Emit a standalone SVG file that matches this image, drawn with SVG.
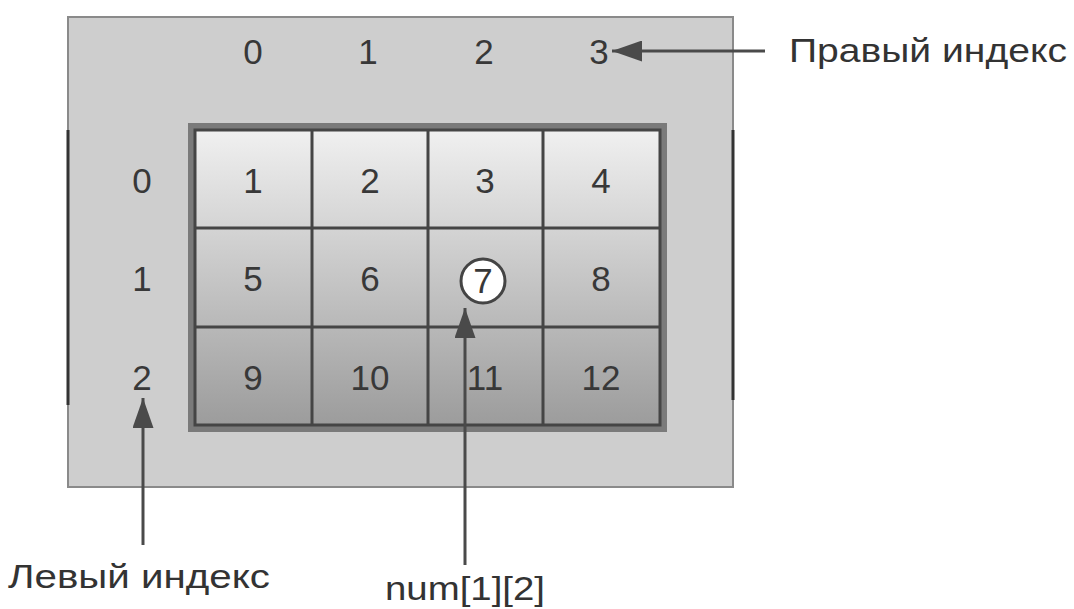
<svg xmlns="http://www.w3.org/2000/svg" width="1074" height="609" viewBox="0 0 1074 609">
<defs>
<linearGradient id="gridGrad" x1="0" y1="0" x2="0" y2="1">
<stop offset="0" stop-color="#f0f0f0"/>
<stop offset="0.5" stop-color="#c6c6c6"/>
<stop offset="1" stop-color="#9c9c9c"/>
</linearGradient>
<marker id="ah" viewBox="0 0 10 10" refX="10" refY="5" markerWidth="10" markerHeight="7" markerUnits="strokeWidth" orient="auto" preserveAspectRatio="none">
<path d="M0,0 L10,5 L0,10 z" fill="#4a4a4a"/>
</marker>
<style>
.t{font-family:"Liberation Sans",Arial,sans-serif;font-size:35px;fill:#383838;text-anchor:middle}
.lab{font-family:"Liberation Sans",Arial,sans-serif;font-size:34px;fill:#333}
.gl{stroke:#454545;stroke-width:3;fill:none}
.arr{stroke:#4a4a4a;stroke-width:3;fill:none;marker-end:url(#ah)}
</style>
</defs>
<rect width="1074" height="609" fill="#ffffff"/>
<g id="panel">
<rect x="68" y="17" width="665" height="470" fill="#cecece" stroke="#8a8a8a" stroke-width="2"/>
<line x1="68" y1="130" x2="68" y2="405" stroke="#333" stroke-width="3"/>
<line x1="733" y1="130" x2="733" y2="400" stroke="#333" stroke-width="3"/>
</g>
<g id="grid">
<rect x="191" y="126" width="473" height="303" fill="none" stroke="#7a7a7a" stroke-width="6"/>
<rect x="195" y="130" width="465" height="295" fill="url(#gridGrad)"/>
<rect x="195" y="130" width="465" height="295" class="gl" stroke-width="4"/>
<line x1="312" y1="130" x2="312" y2="425" class="gl"/>
<line x1="428" y1="130" x2="428" y2="425" class="gl"/>
<line x1="543" y1="130" x2="543" y2="425" class="gl"/>
<line x1="195" y1="228" x2="660" y2="228" class="gl"/>
<line x1="195" y1="327" x2="660" y2="327" class="gl"/>
</g>
<g id="cells">
<text class="t" x="253" y="193">1</text>
<text class="t" x="370" y="193">2</text>
<text class="t" x="485" y="193">3</text>
<text class="t" x="601" y="193">4</text>
<text class="t" x="253" y="291">5</text>
<text class="t" x="370" y="291">6</text>
<circle cx="483" cy="281" r="22" fill="#ffffff" stroke="#444" stroke-width="3"/>
<text class="t" x="483" y="293">7</text>
<text class="t" x="601" y="291">8</text>
<text class="t" x="253" y="390">9</text>
<text class="t" x="370" y="390">10</text>
<text class="t" x="485" y="390">11</text>
<text class="t" x="601" y="390">12</text>
</g>
<g id="col-index">
<text class="t" x="253" y="64">0</text>
<text class="t" x="368" y="64">1</text>
<text class="t" x="484" y="64">2</text>
<text class="t" x="599" y="64">3</text>
</g>
<g id="row-index">
<text class="t" x="142" y="193">0</text>
<text class="t" x="142" y="291">1</text>
<text class="t" x="142" y="390">2</text>
</g>
<g id="connectors">
<line class="arr" x1="765" y1="51" x2="612" y2="51"/>
<line class="arr" x1="143" y1="545" x2="143" y2="398"/>
<line class="arr" x1="465" y1="565" x2="465" y2="308"/>
</g>
<g id="labels">
<text class="lab" x="789" y="62" textLength="278" lengthAdjust="spacingAndGlyphs">Правый индекс</text>
<text class="lab" x="8" y="588" textLength="262" lengthAdjust="spacingAndGlyphs">Левый индекс</text>
<text class="lab" x="385" y="600" textLength="160" lengthAdjust="spacingAndGlyphs">num[1][2]</text>
</g>
</svg>
